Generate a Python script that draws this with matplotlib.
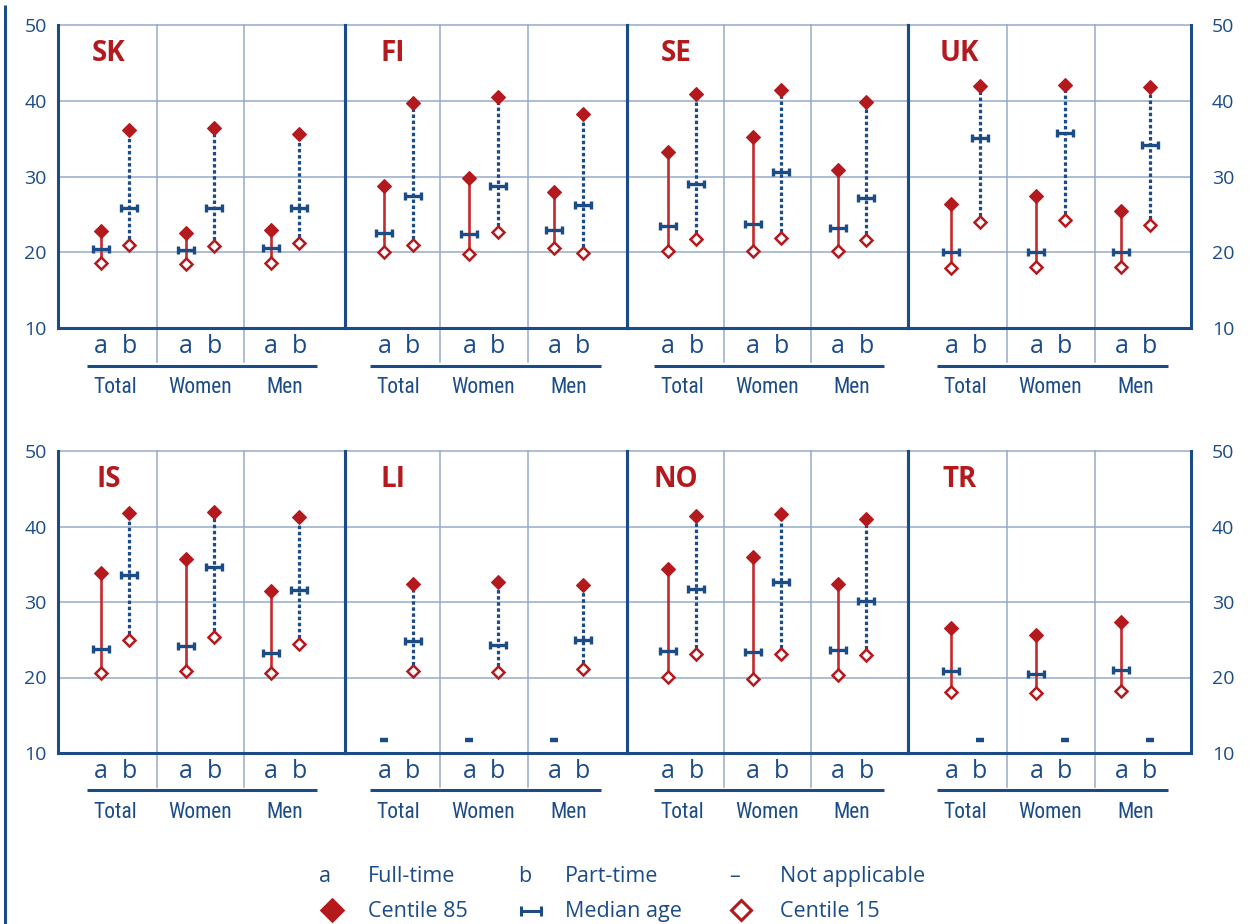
import os
import numpy as np
import matplotlib
matplotlib.use('Agg')
import matplotlib.pyplot as plt
from matplotlib.path import Path
from matplotlib import font_manager
from matplotlib.font_manager import FontProperties

# ---------------- data ----------------
countries = ['SK', 'FI', 'SE', 'UK', 'IS', 'LI', 'NO', 'TR']
groups = ['Total', 'Women', 'Men']
sub_labels = ['a', 'b']
yticks = [10, 20, 30, 40, 50]
nan = np.nan

# a = Full-time  (rows follow `countries`, columns follow `groups`)
ft_c85 = [[22.8, 22.6, 23.0], [28.8, 29.85, 27.95], [33.3, 35.2, 30.8], [26.4, 27.4, 25.5],
          [33.9, 35.7, 31.4], [nan, nan, nan], [34.35, 36.0, 32.4], [26.6, 25.6, 27.4]]
ft_median = [[20.4, 20.3, 20.5], [22.6, 22.4, 23.0], [23.45, 23.7, 23.2], [20.0, 20.0, 20.0],
             [23.75, 24.2, 23.3], [nan, nan, nan], [23.45, 23.4, 23.6], [20.8, 20.5, 21.05]]
ft_c15 = [[18.6, 18.5, 18.6], [20.0, 19.8, 20.5], [20.2, 20.2, 20.1], [17.95, 18.0, 18.0],
          [20.66, 20.8, 20.6], [nan, nan, nan], [20.05, 19.8, 20.3], [18.1, 18.0, 18.2]]
# b = Part-time
pt_c85 = [[36.2, 36.45, 35.65], [39.65, 40.45, 38.25], [40.9, 41.4, 39.8], [42.0, 42.1, 41.8],
          [41.8, 41.9, 41.25], [32.4, 32.7, 32.2], [41.4, 41.7, 41.0], [nan, nan, nan]]
pt_median = [[25.8, 25.8, 25.8], [27.4, 28.75, 26.3], [29.0, 30.6, 27.2], [35.1, 35.7, 34.1],
             [33.6, 34.6, 31.6], [24.9, 24.3, 25.0], [31.7, 32.6, 30.15], [nan, nan, nan]]
pt_c15 = [[21.0, 20.8, 21.2], [21.0, 22.65, 19.9], [21.8, 21.9, 21.65], [24.0, 24.3, 23.6],
          [25.0, 25.4, 24.4], [20.9, 20.7, 21.15], [23.1, 23.1, 23.0], [nan, nan, nan]]

legend_row1 = [('a', 'Full-time'), ('b', 'Part-time'), ('\u2013', 'Not applicable')]
legend_row2 = ['Centile 85', 'Median age', 'Centile 15']

# ---------------- style ----------------
NAVY = '#1c4c87'
RED = '#b3191d'
RED_LINE = '#c42a2e'
GRID = '#94abc9'
NA_Y = 11.75

plt.rcParams['font.family'] = ['Open Sans', 'DejaVu Sans']


def find_condensed():
    prefs = ['liberationsansnarrow-regular', 'notosans-condensed.', 'notosans-condensedmedium',
             'opensans_condensed-regular', 'opensans-condensedregular', 'robotocondensed-regular',
             'dejavusanscondensed.']
    files = [f.fname for f in font_manager.fontManager.ttflist]
    for p in prefs:
        for fn in files:
            if p in os.path.basename(fn).lower():
                return fn
    for fn in files:
        b = os.path.basename(fn).lower()
        if ('condensed' in b or 'narrow' in b) and not any(s in b for s in ('bold', 'italic', 'oblique', 'light', 'thin')):
            return fn
    return None


cfile = find_condensed()
if cfile:
    cond_fp = FontProperties(fname=cfile, size=15.5)
else:
    cond_fp = FontProperties(family=['Open Sans', 'DejaVu Sans'], size=12.5)

# median marker: horizontal bar with end caps
hpath = Path([(-1, 0), (1, 0), (-1, -0.5), (-1, 0.5), (1, -0.5), (1, 0.5)],
             [Path.MOVETO, Path.LINETO, Path.MOVETO, Path.LINETO, Path.MOVETO, Path.LINETO])

W, H = 1251, 924
fig = plt.figure(figsize=(W / 100, H / 100), dpi=100)

over = fig.add_axes([0, 0, 1, 1])
over.set_xlim(0, W)
over.set_ylim(H, 0)
over.axis('off')

# page rule at the far left
over.plot([5, 5], [5, H], color=NAVY, lw=2.2, solid_capstyle='butt')

borders = [58, 345, 627, 908, 1191]
rows = [(25, 328), (451, 753)]
PPU = 85.0
C0, STEP = 115.0, 283.5
OFF = 0.165

gx = np.arange(len(groups))
xa = gx - OFF
xb = gx + OFF

for i, c in enumerate(countries):
    r, k = divmod(i, 4)
    L, R = borders[k], borders[k + 1]
    T, B = rows[r]
    ax = fig.add_axes([L / W, 1 - B / H, (R - L) / W, (B - T) / H])
    ck = C0 + STEP * k
    ax.set_xlim((L - ck) / PPU, (R - ck) / PPU)
    ax.set_ylim(yticks[0], yticks[-1])
    ax.patch.set_alpha(0)
    trans = ax.get_xaxis_transform()

    for v in yticks[1:]:
        ax.axhline(v, color=GRID, lw=1.1, zorder=1, clip_on=False)
    for xs in (0.49, 1.52):
        ax.plot([xs, xs], [-0.112, 1], transform=trans, color=GRID, lw=1.1,
                clip_on=False, zorder=1)

    for s in ('left', 'right', 'bottom'):
        ax.spines[s].set_color(NAVY)
        ax.spines[s].set_linewidth(2.2)
        ax.spines[s].set_zorder(2.5)
    ax.spines['top'].set_visible(False)

    ax.set_xticks([])
    ax.set_yticks(yticks)
    ax.tick_params(axis='y', length=0, labelsize=14, labelcolor=NAVY,
                   labelleft=(k == 0), labelright=(k == 3),
                   pad=(8 if k == 0 else 15))

    fc85, fmed, f15 = np.array(ft_c85[i]), np.array(ft_median[i]), np.array(ft_c15[i])
    pc85, pmed, p15 = np.array(pt_c85[i]), np.array(pt_median[i]), np.array(pt_c15[i])

    for j in range(len(groups)):
        if not np.isnan(fc85[j]):
            ax.plot([xa[j], xa[j]], [f15[j], fc85[j]], color=RED_LINE, lw=1.9, zorder=3,
                    solid_capstyle='butt')
        else:
            ax.plot([xa[j]], [NA_Y], ls='none', marker='_', ms=6, mew=3.2, color=NAVY, zorder=4)
        if not np.isnan(pc85[j]):
            ln, = ax.plot([xb[j], xb[j]], [p15[j], pc85[j]], color=NAVY, lw=2.3, zorder=3,
                          dash_capstyle='butt')
            ln.set_dashes((1.1, 0.8))
        else:
            ax.plot([xb[j]], [NA_Y], ls='none', marker='_', ms=6, mew=3.2, color=NAVY, zorder=4)

    for xs, med, c85, c15 in ((xa, fmed, fc85, f15), (xb, pmed, pc85, p15)):
        ax.plot(xs, med, ls='none', marker=hpath, ms=11.5, mew=2.4, mec=NAVY, mfc='none', zorder=4)
        ax.plot(xs, c85, ls='none', marker='D', ms=7.4, mew=0.8, mec=RED, mfc=RED, zorder=5)
        ax.plot(xs, c15, ls='none', marker='D', ms=6.4, mew=1.8, mec=RED, mfc='white', zorder=5)

    for j in range(len(groups)):
        ax.text(xa[j], -0.0825, sub_labels[0], transform=trans, ha='center', va='baseline',
                fontsize=18, color=NAVY)
        ax.text(xb[j], -0.0825, sub_labels[1], transform=trans, ha='center', va='baseline',
                fontsize=18, color=NAVY)
        ax.text(gx[j], -0.2145, groups[j], transform=trans, ha='center', va='baseline',
                fontproperties=cond_fp, color=NAVY)
    ax.plot([-0.33, 2.38], [-0.124, -0.124], transform=trans, color=NAVY, lw=2.2,
            clip_on=False, solid_capstyle='butt')

    ax.text(-0.07, 0.882, c, transform=trans, ha='center', va='baseline', fontsize=20,
            fontweight='bold', color=RED)

# ---------------- legend ----------------
LFS = 15.5
sym_x = [325, 525, 735]
txt_x = [368, 565, 780]
for (sym, lab), sx, tx in zip(legend_row1, sym_x, txt_x):
    over.text(sx, 882, sym, ha='center', va='baseline', fontsize=LFS, color=NAVY)
    over.text(tx, 882, lab, ha='left', va='baseline', fontsize=LFS, color=NAVY)
over.plot([332], [910], ls='none', marker='D', ms=12, mew=0.8, mec=RED, mfc=RED)
over.plot([530.5], [911], ls='none', marker=hpath, ms=15, mew=2.2, mec=NAVY, mfc='none')
over.plot([741], [910], ls='none', marker='D', ms=10.5, mew=2.2, mec=RED, mfc='white')
for lab, tx in zip(legend_row2, txt_x):
    over.text(tx, 917, lab, ha='left', va='baseline', fontsize=LFS, color=NAVY)

fig.savefig('out.png', dpi=100)
